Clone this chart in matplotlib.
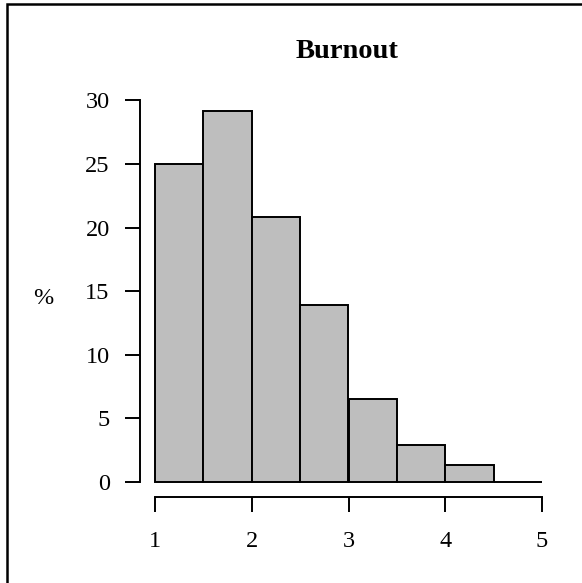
import matplotlib.pyplot as plt
from matplotlib.patches import Rectangle

# Burnout score histogram (percent of respondents per half-point bin)
bin_edges = [1.0, 1.5, 2.0, 2.5, 3.0, 3.5, 4.0, 4.5, 5.0]
percent = [25.0, 29.2, 20.8, 13.9, 6.5, 2.9, 1.3, 0.0]
x_ticks = [1, 2, 3, 4, 5]
y_ticks = [0, 5, 10, 15, 20, 25, 30]
title = "Burnout"

W, H = 582, 583
DPI = 100
serif = "Liberation Serif"

fig = plt.figure(figsize=(W / DPI, H / DPI), dpi=DPI)

# plot region in pixels (R-style 4% padding around the data range)
left_px, right_px = 139.5, 557.5
top_px, bottom_px = 95.3, 497.0
ax = fig.add_axes([left_px / W, 1 - bottom_px / H,
                   (right_px - left_px) / W, (bottom_px - top_px) / H])

widths = [b - a for a, b in zip(bin_edges[:-1], bin_edges[1:])]
ax.bar(bin_edges[:-1], percent, width=widths, align="edge",
       color="#bebebe", edgecolor="black", linewidth=1.4)

ax.set_xlim(0.84, 5.16)
ax.set_ylim(-1.18, 30.4)

for side in ("top", "right"):
    ax.spines[side].set_visible(False)
ax.spines["left"].set_bounds(0, 30)
ax.spines["bottom"].set_bounds(1, 5)
for side in ("left", "bottom"):
    ax.spines[side].set_linewidth(1.4)

ax.set_xticks(x_ticks)
ax.set_yticks(y_ticks)
ax.tick_params(axis="both", length=10.5, width=1.4, labelsize=17.5)
ax.tick_params(axis="x", pad=14)
ax.tick_params(axis="y", pad=11)
for lab in ax.get_xticklabels() + ax.get_yticklabels():
    lab.set_fontfamily(serif)

fig.text(347 / W, 1 - 52 / H, title, ha="center", va="center",
         fontsize=20.5, fontweight="bold", family=serif)
fig.text(43 / W, 1 - 298 / H, "%", ha="center", va="center",
         fontsize=17.5, family=serif)

# screenshot frame (only left and top edges are inside the crop)
fig.add_artist(Rectangle((7 / W, -0.05), 1.2, 1 - 4.5 / H + 0.05,
                         transform=fig.transFigure, fill=False,
                         edgecolor="black", linewidth=1.8))

fig.savefig("out.png", dpi=DPI)
